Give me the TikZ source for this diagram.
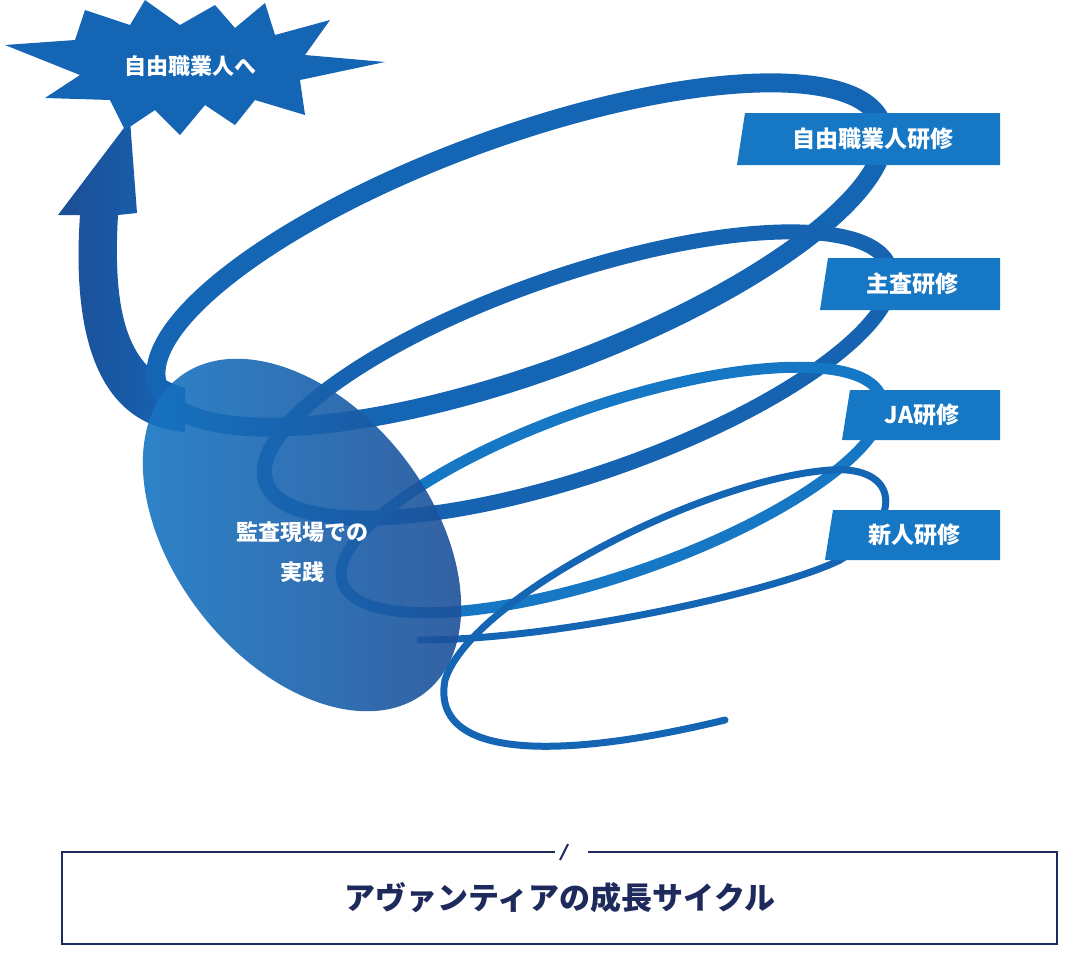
\documentclass[tikz,border=0pt]{standalone}
\usepackage{fontspec}
\setmainfont{Noto Sans CJK JP}
\begin{document}
\begin{tikzpicture}[x=1pt,y=1pt,
  lbl/.style={text=white,font=\fontsize{23}{27}\selectfont\bfseries},
  loop/.style={draw=mblue,line cap=round}]
\definecolor{lblue}{HTML}{1677C4}
\definecolor{mblue}{HTML}{1565B5}
\definecolor{dblue}{HTML}{1D4E96}
\definecolor{navy}{HTML}{1F2A5C}
\useasboundingbox (0,0) rectangle (1072,-956);
% big arrow
\shade[left color=dblue,right color=mblue]
 (185,-432) .. controls (95,-425) and (72,-330) .. (80,-215) -- (58,-215) -- (130,-120) -- (137,-213) -- (118,-215)
 .. controls (112,-320) and (130,-372) .. (185,-388) -- cycle;
% starburst
\fill[mblue] (5,-45) -- (75,-40) -- (85,-10) -- (130,-25) -- (145,0) -- (180,-25) -- (215,-5) -- (235,-28) -- (265,-3) -- (275,-35) -- (330,-20) -- (305,-55) -- (385,-62) -- (300,-80) -- (305,-115) -- (255,-100) -- (235,-125) -- (205,-105) -- (180,-135) -- (155,-110) -- (125,-130) -- (110,-100) -- (45,-98) -- (80,-75) -- cycle;
\node[lbl,font=\fontsize{22}{26}\selectfont\bfseries] (star) at (190,-66) {自由職業人へ};
% loops
\draw[loop,line width=19pt] (520,-255) ellipse[x radius=385,y radius=118,rotate=20];
\draw[loop,line width=15pt,draw=mblue!90!dblue] (578,-375) ellipse[x radius=330,y radius=100,rotate=19];
\draw[loop,line width=11pt,draw=lblue] (612,-490) ellipse[x radius=285,y radius=85,rotate=19];
\draw[loop,line width=7pt,draw=mblue] (725,-720) .. controls (560,-760) and (430,-760) .. (445,-680)
  .. controls (470,-600) and (700,-480) .. (830,-470) .. controls (900,-465) and (905,-520) .. (840,-560)
  .. controls (780,-590) and (560,-640) .. (420,-640);
% ellipse
\shade[opacity=0.9,left color=lblue,right color=dblue,rotate around={-52:(302,-535)}]
  (302,-535) ellipse[x radius=200,y radius=128];
\node[lbl,font=\fontsize{22}{40}\selectfont\bfseries,align=center] (prac) at (302,-552) {監査現場での\\実践};
% labels
\fill[lblue] (745,-113) -- (1000,-113) -- (1000,-165) -- (737,-165) -- cycle;
\node[lbl] (l1) at (873,-139) {自由職業人研修};
\fill[lblue] (828,-258) -- (1000,-258) -- (1000,-310) -- (820,-310) -- cycle;
\node[lbl] (l2) at (912,-284) {主査研修};
\fill[lblue] (850,-390) -- (1000,-390) -- (1000,-440) -- (842,-440) -- cycle;
\node[lbl] (l3) at (922,-415) {JA研修};
\fill[lblue] (833,-510) -- (1000,-510) -- (1000,-560) -- (825,-560) -- cycle;
\node[lbl] (l4) at (914,-535) {新人研修};
% bottom box
\draw[navy,line width=2.5pt] (555,-852) -- (62,-852) -- (62,-944) -- (1057,-944) -- (1057,-852) -- (588,-852);
\draw[navy,line width=2pt] (560,-860) -- (568,-844);
\node[text=navy,font=\fontsize{31}{35}\selectfont\bfseries] (title) at (560,-898) {アヴァンティアの成長サイクル};
\end{tikzpicture}
\end{document}
